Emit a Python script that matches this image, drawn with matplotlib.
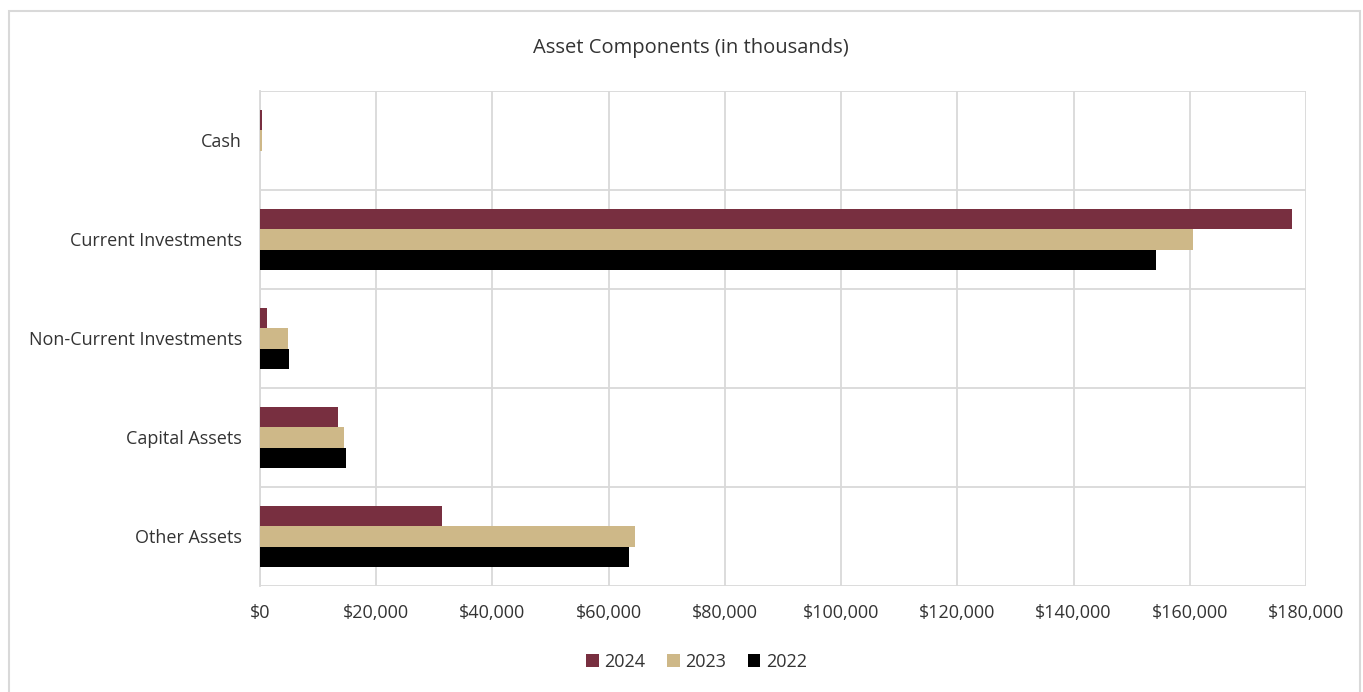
import numpy as np
import matplotlib.pyplot as plt
from matplotlib.patches import Rectangle
from matplotlib.ticker import FuncFormatter, MultipleLocator

plt.rcParams['font.family'] = ['Open Sans', 'DejaVu Sans']

categories = ['Cash', 'Current Investments', 'Non-Current Investments', 'Capital Assets', 'Other Assets']
years = ['2024', '2023', '2022']
v2024 = [400, 177600, 1200, 13400, 31300]
v2023 = [300, 160600, 4800, 14500, 64500]
v2022 = [0, 154200, 5000, 14800, 63500]
colors = ['#782F40', '#CEB888', '#000000']
txt = '#333333'

fig = plt.figure(figsize=(13.63, 6.92), dpi=100)
ax = fig.add_axes([0.1908, 0.1532, 0.9582 - 0.1908, 0.8685 - 0.1532])

y = np.arange(len(categories))
h = 0.205
for i, (vals, yr, c) in enumerate(zip([v2024, v2023, v2022], years, colors)):
    ax.barh(y + (i - 1) * h, vals, height=h, color=c, label=yr, zorder=3)

ax.set_xlim(0, 180000)
ax.set_ylim(len(categories) - 0.5, -0.5)
ax.xaxis.set_major_locator(MultipleLocator(20000))
ax.xaxis.set_major_formatter(FuncFormatter(lambda v, p: f'${v:,.0f}'))
ax.set_yticks(y)
ax.set_yticklabels(categories)
ax.set_yticks(np.arange(-0.5, len(categories), 1), minor=True)

ax.grid(axis='x', which='major', color='#D9D9D9', lw=1.3, zorder=0)
ax.grid(axis='y', which='minor', color='#D9D9D9', lw=1.3, zorder=0)
for s in ['top', 'right', 'bottom']:
    ax.spines[s].set_visible(False)
ax.spines['left'].set_color('#D9D9D9')
ax.spines['left'].set_linewidth(1.3)
ax.tick_params(which='both', length=0)
ax.tick_params(axis='x', labelsize=13, colors=txt, pad=13)
ax.tick_params(axis='y', labelsize=13, colors=txt, pad=13)

fig.text(0.507, 0.931, 'Asset Components (in thousands)', ha='center', va='center',
         fontsize=14.5, color=txt)

fig.legend(loc='center', bbox_to_anchor=(0.511, 0.044), ncol=3, frameon=False,
           fontsize=13, handlelength=0.7, handleheight=0.7, handletextpad=0.3,
           columnspacing=1.2, labelcolor=txt)

fig.patches.append(Rectangle((9 / 1363, -0.05), 1351 / 1363, 1.05 - 11 / 692, transform=fig.transFigure,
                             fill=False, edgecolor='#D9D9D9', lw=1.5))

fig.savefig('out.png', dpi=100)
